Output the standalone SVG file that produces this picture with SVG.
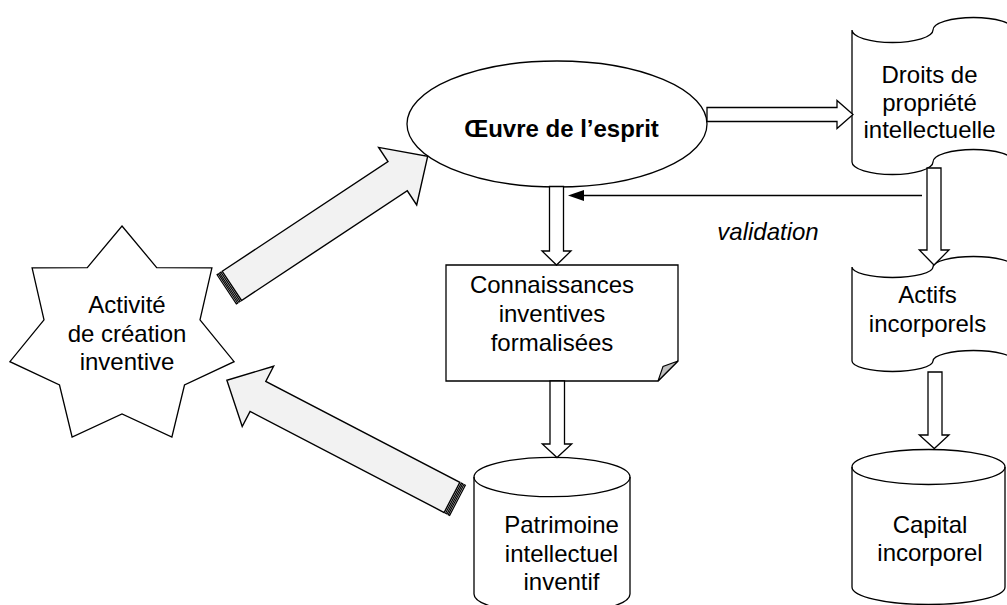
<svg xmlns="http://www.w3.org/2000/svg" width="1007" height="605" viewBox="0 0 1007 605">
<style>
.shape{fill:#fff;stroke:#000;stroke-width:1.3;stroke-linejoin:miter}
.big{fill:#f2f2f2;stroke:#000;stroke-width:1.4;stroke-linejoin:miter}
.stripe{fill:#f2f2f2;stroke:#000;stroke-width:1.2}
.blk{fill:#fff;stroke:#000;stroke-width:1.3;stroke-linejoin:miter}
.line{fill:none;stroke:#000;stroke-width:1.6}
.fold{fill:#c0c0c0;stroke:#000;stroke-width:1.1}
text{font-family:"Liberation Sans",Arial,Helvetica,sans-serif;font-size:24px;fill:#000;text-anchor:middle}
.b{font-weight:bold}
.i{font-style:italic}
</style>
<rect width="1007" height="605" fill="#fff"/>

<g id="node-activite">
<polygon class="shape" points="122,226 156.7,267.6 211.9,267.8 200,319.9 234.1,361.7 184.5,385 171.9,437 122,414 72.1,437 59.5,385 9.9,361.7 44,319.9 32.1,267.8 87.3,267.6"/>
<text x="127" y="313">Activité</text>
<text x="127" y="342">de création</text>
<text x="127" y="370">inventive</text>
</g>

<g id="node-oeuvre">
<ellipse class="shape" cx="557" cy="124" rx="150" ry="63"/>
<text class="b" x="561.5" y="137">Œuvre de l’esprit</text>
</g>

<g id="node-droits">
<path class="shape" d="M852,30 A40.5,12.5 0 0 0 933,30 A40.5,12.5 0 0 1 1014,30 V162 A40.5,12.5 0 0 0 933,162 A40.5,12.5 0 0 1 852,162 Z"/>
<text x="929.5" y="83">Droits de</text>
<text x="929.5" y="110.5">propriété</text>
<text x="929.5" y="138">intellectuelle</text>
</g>

<g id="node-connaissances">
<path class="shape" d="M446,265 H678 V361 L658,381 H446 Z"/>
<path class="fold" d="M678,361 L663,366.5 L658,381 Z"/>
<text x="552" y="293">Connaissances</text>
<text x="552" y="322">inventives</text>
<text x="552" y="351">formalisées</text>
</g>

<g id="node-actifs">
<path class="shape" d="M852,267 A40.5,10.5 0 0 0 933,267 A40.5,10.5 0 0 1 1014,267 V361 A40.5,10.5 0 0 0 933,361 A40.5,10.5 0 0 1 852,361 Z"/>
<text x="927.5" y="303">Actifs</text>
<text x="927.5" y="331.5">incorporels</text>
</g>

<g id="node-patrimoine">
<path class="shape" d="M474,477 A78,19.7 0 0 1 630,477 V594 A78,19.7 0 0 1 474,594 Z"/>
<path class="line" style="stroke-width:1.3" d="M474,477 A78,19.7 0 0 0 630,477"/>
<text x="561.5" y="533">Patrimoine</text>
<text x="561.5" y="562">intellectuel</text>
<text x="561.5" y="590">inventif</text>
</g>

<g id="node-capital">
<path class="shape" d="M852,467 A76.5,17.5 0 0 1 1005,467 V587 A76.5,17.5 0 0 1 852,587 Z"/>
<path class="line" style="stroke-width:1.3" d="M852,467 A76.5,17.5 0 0 0 1005,467"/>
<text x="930" y="533">Capital</text>
<text x="930" y="561">incorporel</text>
</g>

<g id="connectors">
<g id="arrow-activite-oeuvre" transform="translate(226.7,289.3) rotate(-33.5)">
<rect class="stripe" x="0" y="-17.5" width="1.6" height="35"/>
<rect class="stripe" x="3" y="-17.5" width="1.6" height="35"/>
<path class="big" d="M6.2,-17.5 H205 V-34.5 L241,0 L205,34.5 V17.5 H6.2 Z"/>
</g>
<g id="arrow-patrimoine-activite" transform="translate(457.5,500.3) rotate(207.5)">
<rect class="stripe" x="0" y="-17" width="1.6" height="34"/>
<rect class="stripe" x="3" y="-17" width="1.6" height="34"/>
<path class="big" d="M6.2,-17 H225 V-34 L260,0 L225,34 V17 H6.2 Z"/>
</g>
<path id="arrow-oeuvre-droits" class="blk" d="M707,107.5 H837 V100.5 L853,114.5 L837,128.5 V121.5 H707 Z"/>
<path id="arrow-oeuvre-connaissances" class="blk" d="M549.5,186.5 H563.5 V251 H571 L556.5,265 L542,251 H549.5 Z"/>
<path id="arrow-connaissances-patrimoine" class="blk" d="M550,381 H564.5 V444 H571.7 L557,457.5 L542.3,444 H550 Z"/>
<path id="arrow-droits-actifs" class="blk" d="M927,168 H941 V250 H949 L934,265 L919.3,250 H927 Z"/>
<path id="arrow-actifs-capital" class="blk" d="M928,372 H942 V435 H949 L934.3,448.5 L919.3,435 H928 Z"/>
<g id="validation">
<line class="line" x1="922" y1="195.5" x2="582" y2="195.5"/>
<polygon points="568,195.5 584,190 584,201" fill="#000"/>
<text class="i" x="768" y="240">validation</text>
</g>
</g>
</svg>
